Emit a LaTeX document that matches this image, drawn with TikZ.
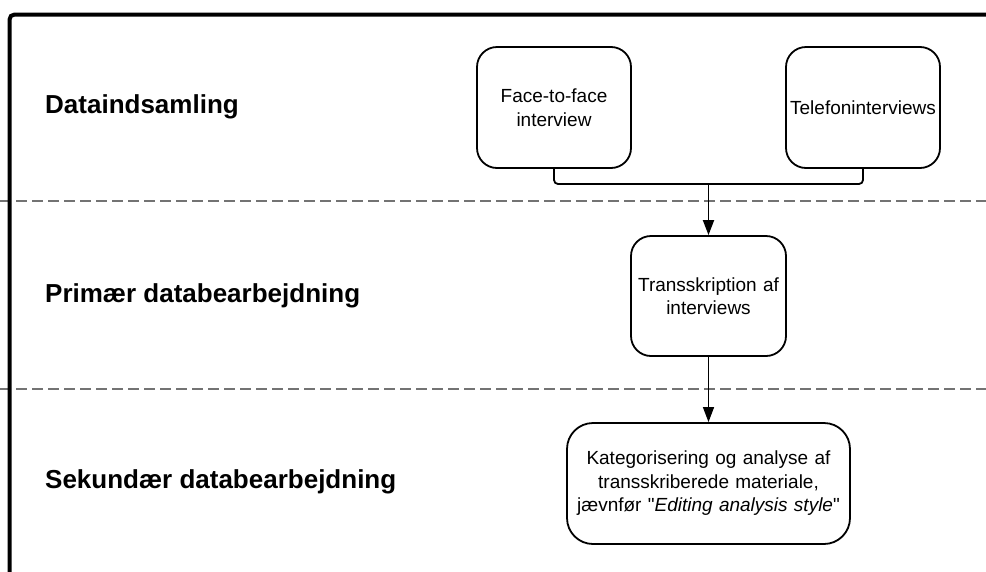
\documentclass[tikz,border=0pt]{standalone}
\usepackage{fontspec}
\setmainfont{Liberation Sans}[Ligatures=TeXOff]
\usetikzlibrary{arrows.meta}
\tikzset{
  box/.style={draw, line width=1.8pt, rounded corners=20pt, inner sep=0pt, align=center,
    font=\fontsize{19}{23.5}\selectfont},
  lane/.style={anchor=base west, inner sep=0pt, font=\fontsize{26}{30}\selectfont\bfseries},
  sep/.style={draw=black!55, line width=1.3pt, dash pattern=on 11pt off 5pt},
  conn/.style={line width=1.8pt, rounded corners=4pt},
  arr/.style={-{Triangle[length=15pt,width=11pt]}}
}
\begin{document}
\begin{tikzpicture}[x=1pt,y=-1pt]
\useasboundingbox (0,0) rectangle (986,571);
\fill[white] (0,0) rectangle (986,571);
% separators
\draw[sep] (0,201) -- (986,201);
\draw[sep] (0,389) -- (986,389);
% frame
\draw[line width=4pt, rounded corners=5pt] (9.5,580) -- (9.5,14.5) -- (995,14.5);
% lane labels
\node[lane] (l1) at (45,113) {Dataindsamling};
\node[lane] (l2) at (45,302) {Primær databearbejdning};
\node[lane] (l3) at (45,488) {Sekundær databearbejdning};
% boxes
\node[box, minimum width=154pt, minimum height=121pt, text width=150pt] (face) at (554,107.5) {Face-to-face\\interview};
\node[box, minimum width=154pt, minimum height=121pt, text width=154pt] (tel) at (863,107.5) {Telefoninterviews};
\node[box, minimum width=155pt, minimum height=120pt, text width=154pt] (trans) at (708.5,296) {Transskription af\\interviews};
\node[box, minimum width=283pt, minimum height=121pt, text width=280pt, rounded corners=26pt] (kat) at (708.5,483.5) {Kategorisering og analyse af\\transskriberede materiale,\\jævnfør "\textit{Editing analysis style}"};
% connectors
\coordinate (m) at (708.5,184);
\draw[conn] (face.south) |- (m) -| (tel.south);
\draw[line width=1.8pt, arr] (m) -- (trans.north);
\draw[line width=1.3pt, arr] (trans.south) -- (kat.north);
\end{tikzpicture}
\end{document}
